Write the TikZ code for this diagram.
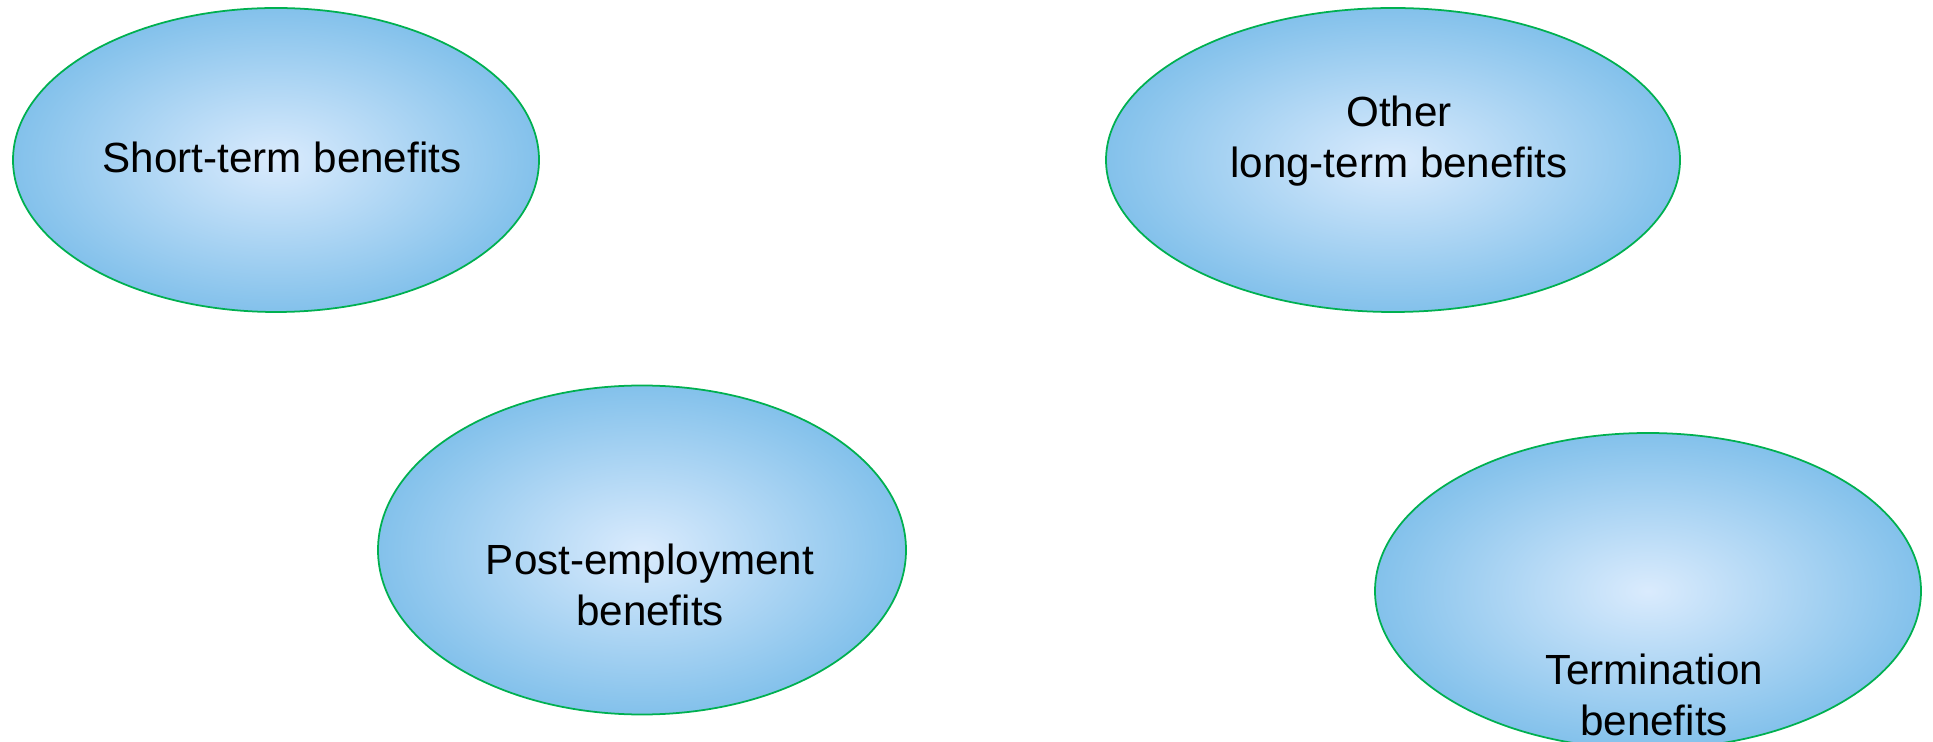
\documentclass[tikz,border=0pt]{standalone}
\usepackage{fontspec}
\setmainfont{Liberation Sans}
\usepackage{tikz}
\usetikzlibrary{shapes.geometric}
\definecolor{rimgreen}{RGB}{0,176,80}
\definecolor{skyout}{RGB}{131,193,235}
\definecolor{skyin}{RGB}{218,235,253}
\tikzstyle{benefit} = [ellipse,draw=rimgreen,line width=0.5pt,inner color=skyin,outer color=skyout,inner sep=0pt]
\tikzstyle{caption} = [align=center,font=\fontsize{12}{14.4}\selectfont,inner sep=0pt]

\begin{document}
\begin{tikzpicture}[x=0.1mm,y=-0.1mm]
        \useasboundingbox (0,0) rectangle (1933,742);
        \node[benefit,minimum width=526*0.1mm,minimum height=304*0.1mm] at (276,160) (short) {};
        \node[benefit,minimum width=574*0.1mm,minimum height=304*0.1mm] at (1393,160) (other) {};
        \node[benefit,minimum width=528*0.1mm,minimum height=329*0.1mm] at (642,550) (post) {};
        \node[benefit,minimum width=546*0.1mm,minimum height=316*0.1mm] at (1648,591) (term) {};

        \node[caption] at (282,157) (shorttxt) {Short-term benefits};
        \node[caption] at (1399,141) (othertxt) {Other\\long-term benefits};
        \node[caption] at (650,585) (posttxt) {Post-employment\\benefits};
        \node[caption] at (1654,695) (termtxt) {Termination\\benefits};
    \end{tikzpicture}
\end{document}
